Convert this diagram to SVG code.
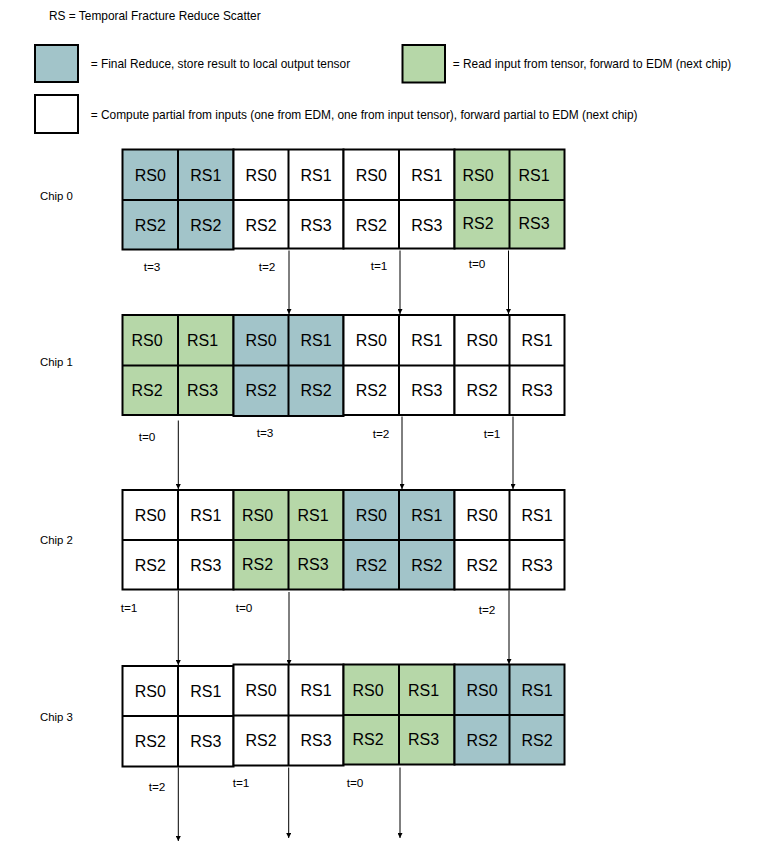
<svg xmlns="http://www.w3.org/2000/svg" width="778" height="853" viewBox="0 0 778 853">
<style>
  text { font-family: "Liberation Sans", Arial, sans-serif; fill: #000; }
  .lg { font-size: 11.9px; }
  .chip { font-size: 11.4px; }
  .t { font-size: 11.8px; text-anchor: middle; }
  .c { font-size: 16px; text-anchor: middle; }
  .blk rect, .blk line { stroke: #000; stroke-width: 2; }
  .blue rect { fill: #a2c4c9; }
  .green rect { fill: #b6d7a8; }
  .white rect { fill: #ffffff; }
  .key { stroke: #000; stroke-width: 2; }
</style>
<defs>
  <marker id="ah" viewBox="0 0 6 6" refX="6" refY="3" markerUnits="userSpaceOnUse" markerWidth="5" markerHeight="5" orient="auto">
    <path d="M0,0 L6,3 L0,6 z" fill="#000"/>
  </marker>
</defs>
<rect width="778" height="853" fill="#ffffff"/>

<!-- legend -->
<g id="legend">
  <text class="lg" x="49" y="20">RS = Temporal Fracture Reduce Scatter</text>
  <rect class="key" x="35" y="45" width="43" height="37" fill="#a2c4c9"/>
  <text class="lg" x="90.7" y="68">= Final Reduce, store result to local output tensor</text>
  <rect class="key" x="402.5" y="45" width="42.5" height="37.5" fill="#b6d7a8"/>
  <text class="lg" x="452.7" y="68">= Read input from tensor, forward to EDM (next chip)</text>
  <rect class="key" x="35" y="95" width="43" height="38" fill="#ffffff"/>
  <text class="lg" x="90.7" y="119">= Compute partial from inputs (one from EDM, one from input tensor), forward partial to EDM (next chip)</text>
</g>

<!-- Chip 0 -->
<g id="chip0">
  <text class="chip" x="40" y="200">Chip 0</text>
  <g transform="translate(0,149.5)">
    <g id="chip0-b0" class="blk blue">
      <rect x="122.5" y="0" width="111" height="100"/>
      <line x1="178" y1="0" x2="178" y2="100"/><line x1="122.5" y1="50.5" x2="233.5" y2="50.5"/>
      <text class="c" x="150.25" y="31">RS0</text><text class="c" x="205.75" y="31">RS1</text>
      <text class="c" x="150.25" y="81">RS2</text><text class="c" x="205.75" y="81">RS2</text>
    </g>
    <g id="chip0-b1" class="blk white">
      <rect x="233.5" y="0" width="110" height="99"/>
      <line x1="288.5" y1="0" x2="288.5" y2="99"/><line x1="233.5" y1="50.5" x2="343.5" y2="50.5"/>
      <text class="c" x="261" y="31">RS0</text><text class="c" x="316" y="31">RS1</text>
      <text class="c" x="261" y="81">RS2</text><text class="c" x="316" y="81">RS3</text>
    </g>
    <g id="chip0-b2" class="blk white">
      <rect x="343.5" y="0" width="111" height="99"/>
      <line x1="399" y1="0" x2="399" y2="99"/><line x1="343.5" y1="50.5" x2="454.5" y2="50.5"/>
      <text class="c" x="371.25" y="31">RS0</text><text class="c" x="426.75" y="31">RS1</text>
      <text class="c" x="371.25" y="81">RS2</text><text class="c" x="426.75" y="81">RS3</text>
    </g>
    <g id="chip0-b3" class="blk green">
      <rect x="454.5" y="0" width="110" height="99"/>
      <line x1="509.5" y1="0" x2="509.5" y2="99"/><line x1="454.5" y1="50.5" x2="564.5" y2="50.5"/>
      <text class="c" x="478" y="31">RS0</text><text class="c" x="534" y="31">RS1</text>
      <text class="c" x="478" y="79.5">RS2</text><text class="c" x="534" y="79.5">RS3</text>
    </g>
  </g>
  <text class="t" x="152" y="271">t=3</text>
  <text class="t" x="267" y="271">t=2</text>
  <text class="t" x="379" y="270">t=1</text>
  <text class="t" x="477" y="268">t=0</text>
</g>

<!-- Chip 1 -->
<g id="chip1">
  <text class="chip" x="40" y="366">Chip 1</text>
  <g transform="translate(0,315)">
    <g id="chip1-b0" class="blk green">
      <rect x="122.5" y="0" width="111" height="100"/>
      <line x1="178" y1="0" x2="178" y2="100"/><line x1="122.5" y1="50.5" x2="233.5" y2="50.5"/>
      <text class="c" x="147" y="31">RS0</text><text class="c" x="202.5" y="31">RS1</text>
      <text class="c" x="147" y="81">RS2</text><text class="c" x="202.5" y="81">RS3</text>
    </g>
    <g id="chip1-b1" class="blk blue">
      <rect x="233.5" y="0" width="110" height="101"/>
      <line x1="288.5" y1="0" x2="288.5" y2="101"/><line x1="233.5" y1="50.5" x2="343.5" y2="50.5"/>
      <text class="c" x="261" y="31">RS0</text><text class="c" x="316" y="31">RS1</text>
      <text class="c" x="261" y="81">RS2</text><text class="c" x="316" y="81">RS2</text>
    </g>
    <g id="chip1-b2" class="blk white">
      <rect x="343.5" y="0" width="111" height="100"/>
      <line x1="399" y1="0" x2="399" y2="100"/><line x1="343.5" y1="50.5" x2="454.5" y2="50.5"/>
      <text class="c" x="371.25" y="31">RS0</text><text class="c" x="426.75" y="31">RS1</text>
      <text class="c" x="371.25" y="81">RS2</text><text class="c" x="426.75" y="81">RS3</text>
    </g>
    <g id="chip1-b3" class="blk white">
      <rect x="454.5" y="0" width="110" height="100"/>
      <line x1="509.5" y1="0" x2="509.5" y2="100"/><line x1="454.5" y1="50.5" x2="564.5" y2="50.5"/>
      <text class="c" x="482" y="31">RS0</text><text class="c" x="537" y="31">RS1</text>
      <text class="c" x="482" y="81">RS2</text><text class="c" x="537" y="81">RS3</text>
    </g>
  </g>
  <text class="t" x="147" y="441">t=0</text>
  <text class="t" x="265" y="437">t=3</text>
  <text class="t" x="381" y="438">t=2</text>
  <text class="t" x="492" y="438">t=1</text>
</g>

<!-- Chip 2 -->
<g id="chip2">
  <text class="chip" x="40" y="544">Chip 2</text>
  <g transform="translate(0,490)">
    <g id="chip2-b0" class="blk white">
      <rect x="122.5" y="0" width="111" height="99.5"/>
      <line x1="178" y1="0" x2="178" y2="99.5"/><line x1="122.5" y1="50" x2="233.5" y2="50"/>
      <text class="c" x="150.25" y="31">RS0</text><text class="c" x="205.75" y="31">RS1</text>
      <text class="c" x="150.25" y="80.5">RS2</text><text class="c" x="205.75" y="80.5">RS3</text>
    </g>
    <g id="chip2-b1" class="blk green">
      <rect x="233.5" y="0" width="110" height="99.5"/>
      <line x1="288.5" y1="0" x2="288.5" y2="99.5"/><line x1="233.5" y1="50" x2="343.5" y2="50"/>
      <text class="c" x="257.5" y="31">RS0</text><text class="c" x="313" y="31">RS1</text>
      <text class="c" x="257.5" y="80">RS2</text><text class="c" x="313" y="80">RS3</text>
    </g>
    <g id="chip2-b2" class="blk blue">
      <rect x="343.5" y="0" width="111" height="99.5"/>
      <line x1="399" y1="0" x2="399" y2="99.5"/><line x1="343.5" y1="50" x2="454.5" y2="50"/>
      <text class="c" x="371.25" y="31">RS0</text><text class="c" x="426.75" y="31">RS1</text>
      <text class="c" x="371.25" y="80.5">RS2</text><text class="c" x="426.75" y="80.5">RS2</text>
    </g>
    <g id="chip2-b3" class="blk white">
      <rect x="454.5" y="0" width="110" height="99.5"/>
      <line x1="509.5" y1="0" x2="509.5" y2="99.5"/><line x1="454.5" y1="50" x2="564.5" y2="50"/>
      <text class="c" x="482" y="31">RS0</text><text class="c" x="537" y="31">RS1</text>
      <text class="c" x="482" y="80.5">RS2</text><text class="c" x="537" y="80.5">RS3</text>
    </g>
  </g>
  <text class="t" x="129" y="612">t=1</text>
  <text class="t" x="244" y="612">t=0</text>
  <text class="t" x="487" y="614">t=2</text>
</g>

<!-- Chip 3 -->
<g id="chip3">
  <text class="chip" x="40" y="721">Chip 3</text>
  <g transform="translate(0,666)">
    <g id="chip3-b0" class="blk white">
      <rect x="122.5" y="0" width="111" height="100.5"/>
      <line x1="178" y1="0" x2="178" y2="100.5"/><line x1="122.5" y1="50" x2="233.5" y2="50"/>
      <text class="c" x="150.25" y="31">RS0</text><text class="c" x="205.75" y="31">RS1</text>
      <text class="c" x="150.25" y="81">RS2</text><text class="c" x="205.75" y="81">RS3</text>
    </g>
    <g id="chip3-b1" class="blk white">
      <rect x="233.5" y="-1.5" width="110" height="101"/>
      <line x1="288.5" y1="-1.5" x2="288.5" y2="99.5"/><line x1="233.5" y1="49.5" x2="343.5" y2="49.5"/>
      <text class="c" x="261" y="30">RS0</text><text class="c" x="316" y="30">RS1</text>
      <text class="c" x="261" y="80">RS2</text><text class="c" x="316" y="80">RS3</text>
    </g>
    <g id="chip3-b2" class="blk green">
      <rect x="343.5" y="-1.5" width="111" height="100"/>
      <line x1="399" y1="-1.5" x2="399" y2="98.5"/><line x1="343.5" y1="49" x2="454.5" y2="49"/>
      <text class="c" x="368" y="30">RS0</text><text class="c" x="423.5" y="30">RS1</text>
      <text class="c" x="368" y="79">RS2</text><text class="c" x="423.5" y="79">RS3</text>
    </g>
    <g id="chip3-b3" class="blk blue">
      <rect x="454.5" y="-1.5" width="110" height="100"/>
      <line x1="509.5" y1="-1.5" x2="509.5" y2="98.5"/><line x1="454.5" y1="49" x2="564.5" y2="49"/>
      <text class="c" x="482" y="30">RS0</text><text class="c" x="537" y="30">RS1</text>
      <text class="c" x="482" y="80">RS2</text><text class="c" x="537" y="80">RS2</text>
    </g>
  </g>
  <text class="t" x="157" y="791">t=2</text>
  <text class="t" x="241" y="787">t=1</text>
  <text class="t" x="355" y="787">t=0</text>
</g>

<!-- connectors -->
<g id="connectors" stroke="#000" stroke-width="1" fill="none" marker-end="url(#ah)">
  <line x1="289" y1="250.5" x2="289" y2="314"/>
  <line x1="400" y1="250.5" x2="400" y2="314"/>
  <line x1="508.5" y1="250.5" x2="508.5" y2="314"/>
  <line x1="178.3" y1="420.5" x2="178.3" y2="489"/>
  <line x1="402" y1="416.5" x2="402" y2="489"/>
  <line x1="513" y1="416.5" x2="513" y2="489"/>
  <line x1="178.3" y1="590.5" x2="178.3" y2="665"/>
  <line x1="289" y1="592" x2="289" y2="665"/>
  <line x1="509" y1="590.5" x2="509" y2="664"/>
  <line x1="178.3" y1="767.5" x2="178.3" y2="841"/>
  <line x1="288.7" y1="767.5" x2="288.7" y2="838"/>
  <line x1="400" y1="767.5" x2="400" y2="838"/>
</g>
</svg>
